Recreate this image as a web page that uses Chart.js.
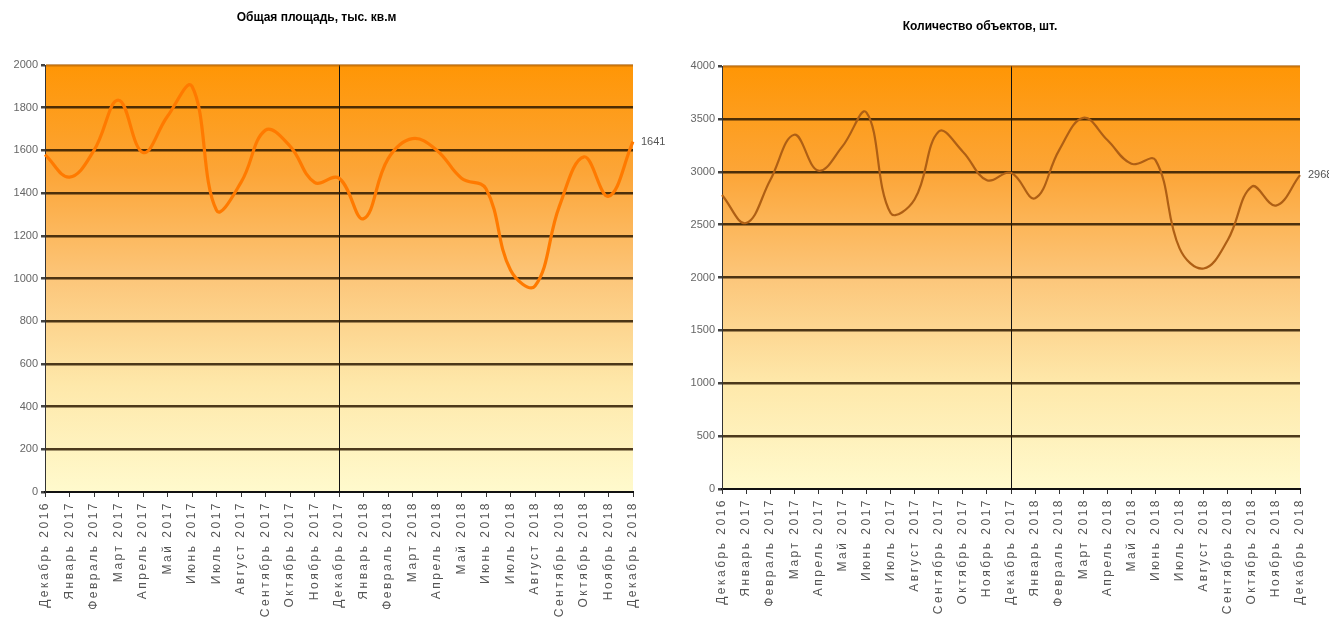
<!DOCTYPE html>
<html>
<head>
<meta charset="utf-8">
<script src="https://cdn.jsdelivr.net/npm/chart.js@4/dist/chart.umd.min.js"></script>
<style>
  html, body { margin: 0; padding: 0; background: #fff; overflow: hidden; }
  #wrap { position: relative; width: 1329px; height: 641px; }
  .box { position: absolute; top: 0; height: 641px; }
</style>
</head>
<body>
<div id="wrap">
  <div class="box" style="left:0;width:690px"><canvas id="area" width="690" height="641"></canvas></div>
  <div class="box" style="left:660px;width:669px"><canvas id="objects" width="669" height="641"></canvas></div>
</div>
<script>
// Monthly series, December 2016 – December 2018
const months = [
  'Декабрь 2016', 'Январь 2017', 'Февраль 2017', 'Март 2017', 'Апрель 2017', 'Май 2017',
  'Июнь 2017', 'Июль 2017', 'Август 2017', 'Сентябрь 2017', 'Октябрь 2017', 'Ноябрь 2017',
  'Декабрь 2017', 'Январь 2018', 'Февраль 2018', 'Март 2018', 'Апрель 2018', 'Май 2018',
  'Июнь 2018', 'Июль 2018', 'Август 2018', 'Сентябрь 2018', 'Октябрь 2018', 'Ноябрь 2018',
  'Декабрь 2018'
];

// Total floor area, thousand sq. m
const areaValues = [
  1580, 1475, 1600, 1835, 1590, 1760, 1900, 1320, 1450, 1695, 1620, 1450,
  1470, 1280, 1560, 1655, 1600, 1470, 1420, 1040, 965, 1340, 1570, 1385, 1641
];

// Number of objects, units
const objectValues = [
  2780, 2515, 2920, 3350, 3010, 3240, 3560, 2610, 2740, 3380, 3190, 2920,
  2990, 2750, 3205, 3510, 3300, 3075, 3110, 2275, 2085, 2355, 2860, 2680, 2968
];

const areaTitle = 'Общая площадь, тыс. кв.м';
const objectsTitle = 'Количество объектов, шт.';

// Year boundary marked with a vertical rule
const dividerIndex = months.indexOf('Декабрь 2017');

// Orange-to-cream gradient behind the plot area
const plotBackground = {
  id: 'plotBackground',
  beforeDraw(chart) {
    const { ctx, chartArea: { left, top, right, bottom } } = chart;
    const g = ctx.createLinearGradient(0, top, 0, bottom);
    g.addColorStop(0, 'rgb(255,150,5)');
    g.addColorStop(0.25, 'rgb(252,165,55)');
    g.addColorStop(0.5, 'rgb(252,198,122)');
    g.addColorStop(0.75, 'rgb(254,232,170)');
    g.addColorStop(1, 'rgb(255,250,205)');
    ctx.save();
    ctx.fillStyle = g;
    ctx.fillRect(left, top, right - left, bottom - top);
    ctx.restore();
  }
};

// Value of the last point, written just right of the plot area
const lastValueLabel = {
  id: 'lastValueLabel',
  afterDatasetsDraw(chart) {
    const ds = chart.data.datasets[0].data;
    const last = ds[ds.length - 1];
    const y = chart.scales.y.getPixelForValue(last);
    const { ctx, chartArea } = chart;
    ctx.save();
    ctx.font = '11px "Liberation Sans", sans-serif';
    ctx.fillStyle = '#555';
    ctx.textAlign = 'left';
    ctx.textBaseline = 'middle';
    ctx.fillText(String(last), chartArea.right + 8, y);
    ctx.restore();
  }
};

// Month labels are drawn a little spaced out
const spacedMonthLabels = {
  id: 'spacedMonthLabels',
  afterLayout(chart) {
    const xs = chart.scales.x;
    if (xs._spaced) return;
    const orig = xs.drawLabels;
    xs.drawLabels = function (area) {
      const ctx = this.ctx;
      ctx.save();
      ctx.letterSpacing = '2.5px';
      orig.call(this, area);
      ctx.restore();
    };
    xs._spaced = true;
  }
};

function makeChart(canvasId, cfg) {
  return new Chart(document.getElementById(canvasId), {
    type: 'line',
    data: {
      labels: months,
      datasets: [{
        data: cfg.values,
        borderColor: cfg.lineColor,
        borderWidth: cfg.lineWidth,
        pointRadius: 0,
        tension: 0.4,
        fill: false
      }]
    },
    options: {
      responsive: false,
      animation: false,
      devicePixelRatio: 1,
      layout: { padding: { left: 0, right: cfg.padRight, top: 0, bottom: 0 } },
      plugins: {
        legend: { display: false },
        tooltip: { enabled: false },
        title: {
          display: true,
          text: cfg.title,
          color: '#000',
          font: { family: '"Liberation Sans Narrow", "Liberation Sans", sans-serif', size: 12, weight: 'bold' },
          padding: { top: cfg.titleTop, bottom: cfg.titleBottom }
        }
      },
      scales: {
        x: {
          ticks: {
            autoSkip: false,
            minRotation: 90,
            maxRotation: 90,
            color: '#555',
            padding: 4,
            font: { family: '"Liberation Sans", sans-serif', size: 12 }
          },
          grid: {
            color: (c) => (c.index === dividerIndex ? '#111' : 'rgba(0,0,0,0)'),
            lineWidth: 1,
            tickColor: '#333',
            tickLength: 5
          },
          border: { color: '#111', width: 2 },
          afterFit: (s) => { s.height = cfg.xHeight; }
        },
        y: {
          min: 0,
          max: cfg.max,
          ticks: {
            stepSize: cfg.step,
            color: '#666',
            padding: 3,
            font: { family: '"Liberation Sans", sans-serif', size: 11 },
            callback: (v) => String(v)
          },
          grid: {
            color: (c) => {
              if (c.tick.value === cfg.max) return 'rgba(170,95,10,0.6)';
              if (c.tick.value === 0) return 'rgba(0,0,0,0)';
              return 'rgba(45,25,0,0.85)';
            },
            lineWidth: 2.5,
            tickColor: '#444',
            tickLength: 4
          },
          border: { color: '#333', width: 1 },
          afterFit: (s) => { s.width = cfg.yWidth; }
        }
      }
    },
    plugins: [plotBackground, lastValueLabel, spacedMonthLabels]
  });
}

makeChart('area', {
  values: areaValues,
  title: areaTitle,
  max: 2000,
  step: 200,
  lineColor: 'rgb(255,122,0)',
  lineWidth: 3.2,
  padRight: 57,
  yWidth: 45,
  xHeight: 149,
  titleTop: 10,
  titleBottom: 40.6
});

makeChart('objects', {
  values: objectValues,
  title: objectsTitle,
  max: 4000,
  step: 500,
  lineColor: 'rgb(175,95,20)',
  lineWidth: 2.2,
  padRight: 29,
  yWidth: 62,
  xHeight: 152,
  titleTop: 19,
  titleBottom: 32.6
});
</script>
</body>
</html>
